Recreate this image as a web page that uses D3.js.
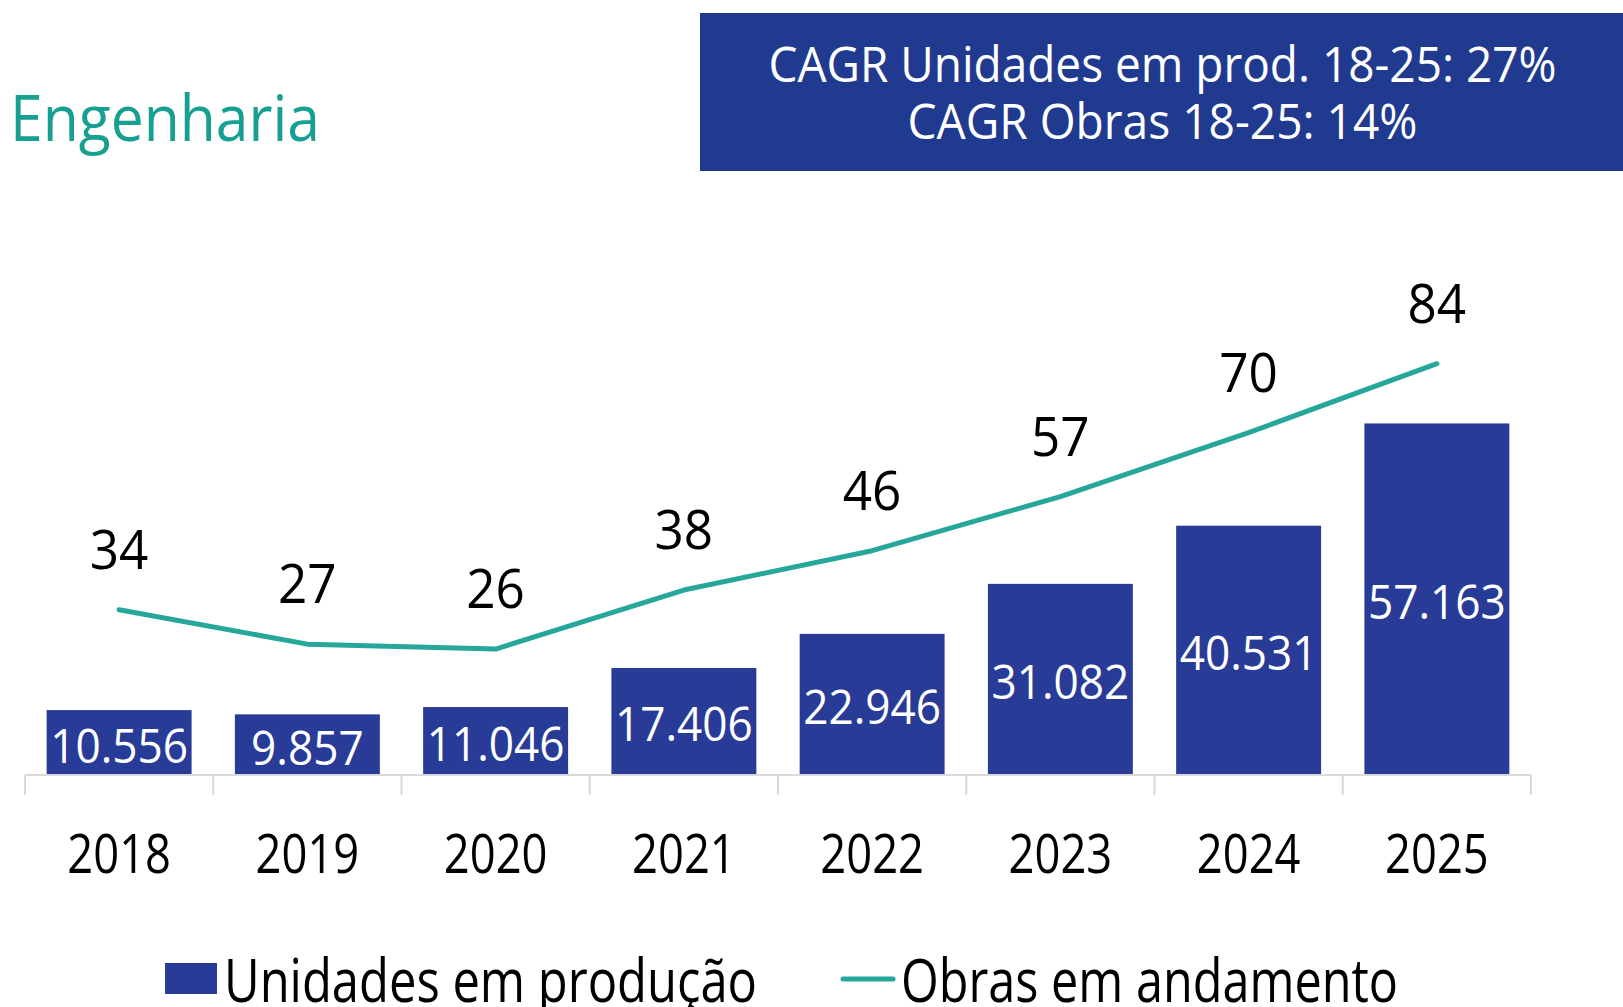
<!DOCTYPE html>
<html><head><meta charset="utf-8">
<script src="https://cdn.jsdelivr.net/npm/d3@7"></script>
<style>
body{margin:0;background:#fff}
svg{display:block}
text{font-family:"Open Sans","Noto Sans",sans-serif}
</style>
</head><body>
<svg id="c" width="1623" height="1007"></svg>
<script>
// ---- data ----
const years = ["2018","2019","2020","2021","2022","2023","2024","2025"];
const unidades = [10556, 9857, 11046, 17406, 22946, 31082, 40531, 57163];
const obras = [34, 27, 26, 38, 46, 57, 70, 84];
const titleText = "Engenharia";
const cagrLines = ["CAGR Unidades em prod. 18-25: 27%", "CAGR Obras 18-25: 14%"];
const seriesNames = ["Unidades em produção", "Obras em andamento"];

// ---- styles ----
const BAR = "#283C97", BOX = "#203A8F", TEAL = "#26A79A", TITLE = "#17A091", AXIS = "#D9D9D9";
const svg = d3.select("#c");
const fmt = v => d3.format(",")(v).replace(/,/g, ".");

const base = 775;
const x0 = 25, x1 = 1531;
const x = d3.scaleBand().domain(years).range([x0, x1]).paddingInner(0.23).paddingOuter(0.115);
const yBar = d3.scaleLinear().domain([0, 60000]).range([base, 406]);
const yLine = d3.scaleLinear().domain([0, 100]).range([777, 285]);
const cx = d => x(d) + x.bandwidth() / 2;

// title
svg.append("text").attr("x", 10).attr("y", 141).attr("font-size", 64).attr("fill", TITLE)
  .attr("textLength", 310).attr("lengthAdjust", "spacingAndGlyphs").text(titleText);

// CAGR box
svg.append("rect").attr("x", 700).attr("y", 13).attr("width", 923).attr("height", 158).attr("fill", BOX);
const boxW = [788, 510], boxY = [82, 139];
svg.selectAll("text.cagr").data(cagrLines).join("text").attr("class", "cagr")
  .attr("x", 1162.5).attr("y", (d, i) => boxY[i]).attr("text-anchor", "middle")
  .attr("font-size", 49).attr("fill", "#fff")
  .attr("textLength", (d, i) => boxW[i]).attr("lengthAdjust", "spacingAndGlyphs").text(d => d);

// bars
const data = years.map((y, i) => ({ year: y, u: unidades[i], o: obras[i] }));
svg.append("g").selectAll("rect").data(data).join("rect")
  .attr("x", d => x(d.year)).attr("y", d => yBar(d.u))
  .attr("width", x.bandwidth()).attr("height", d => base - yBar(d.u)).attr("fill", BAR);

// axis line + boundary ticks
const g = svg.append("g");
const step = x.step();
const edges = d3.range(years.length + 1).map(i => x0 + i * step);
g.append("line").attr("x1", x0).attr("x2", x1).attr("y1", base).attr("y2", base)
  .attr("stroke", AXIS).attr("stroke-width", 2);
g.selectAll("line.tk").data(edges).join("line").attr("class", "tk")
  .attr("x1", d => d).attr("x2", d => d).attr("y1", base).attr("y2", 795)
  .attr("stroke", AXIS).attr("stroke-width", 2);

// year labels
svg.append("g").selectAll("text").data(years).join("text")
  .attr("transform", d => `translate(${cx(d)},873) scale(0.84,1)`)
  .attr("text-anchor", "middle").attr("font-size", 54).attr("fill", "#000").text(d => d);

// bar value labels
svg.append("g").selectAll("text").data(data).join("text")
  .attr("transform", d => `translate(${cx(d.year)},${(yBar(d.u) + base) / 2 + 20}) scale(0.92,1)`)
  .attr("text-anchor", "middle").attr("font-size", 48).attr("fill", "#fff").text(d => fmt(d.u));

// line
svg.append("path").datum(data)
  .attr("d", d3.line().x(d => cx(d.year)).y(d => yLine(d.o)))
  .attr("fill", "none").attr("stroke", TEAL).attr("stroke-width", 5)
  .attr("stroke-linecap", "round").attr("stroke-linejoin", "round");

// line labels
svg.append("g").selectAll("text").data(data).join("text")
  .attr("transform", d => `translate(${cx(d.year)},${yLine(d.o) - 41}) scale(0.95,1)`)
  .attr("text-anchor", "middle").attr("font-size", 54).attr("fill", "#000").text(d => d.o);

// legend
const lg = svg.append("g");
lg.append("rect").attr("x", 165).attr("y", 963).attr("width", 52).attr("height", 31).attr("fill", BAR);
lg.append("text").attr("x", 224).attr("y", 1002).attr("font-size", 61).attr("fill", "#000")
  .attr("textLength", 533).attr("lengthAdjust", "spacingAndGlyphs").text(seriesNames[0]);
lg.append("line").attr("x1", 843).attr("x2", 893).attr("y1", 979).attr("y2", 979)
  .attr("stroke", TEAL).attr("stroke-width", 5).attr("stroke-linecap", "round");
lg.append("text").attr("x", 901).attr("y", 1002).attr("font-size", 61).attr("fill", "#000")
  .attr("textLength", 497).attr("lengthAdjust", "spacingAndGlyphs").text(seriesNames[1]);
</script>
</body></html>
